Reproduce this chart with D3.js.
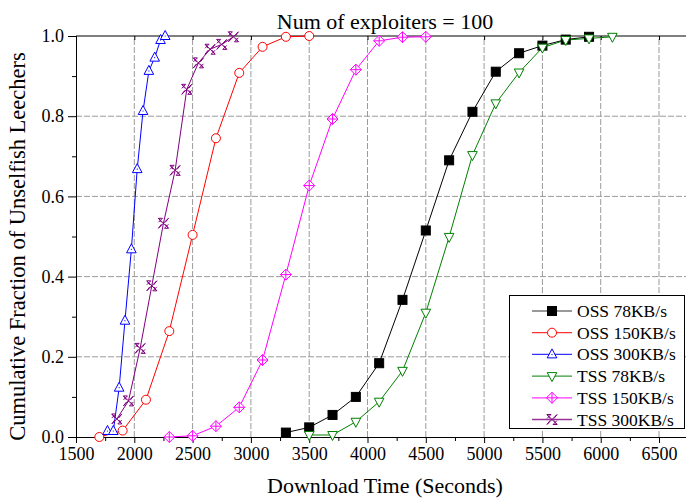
<!DOCTYPE html>
<html>
<head>
<meta charset="utf-8">
<script src="https://cdn.jsdelivr.net/npm/d3@7"></script>
<style>
  html, body { margin: 0; padding: 0; background: #fff; }
  svg { display: block; }
  svg text { font-family: "Liberation Serif", "Times New Roman", Times, "DejaVu Serif", serif; }
</style>
</head>
<body>
<svg id="chart" width="686" height="499"></svg>
<script>
// Download-time CDFs for unselfish leechers (100 exploiters)
const oss78X  = [3300, 3500, 3700, 3900, 4100, 4300, 4500, 4700, 4900, 5100, 5300, 5500, 5700, 5900];
const oss78Y  = [0.011, 0.024, 0.055, 0.100, 0.184, 0.342, 0.515, 0.690, 0.811, 0.911, 0.957, 0.976, 0.991, 0.998];

const oss150X = [1700, 1900, 2100, 2300, 2500, 2700, 2900, 3100, 3300, 3500];
const oss150Y = [0.000, 0.016, 0.093, 0.264, 0.504, 0.745, 0.908, 0.973, 0.998, 1.000];

const oss300X = [1770, 1820, 1870, 1920, 1975, 2025, 2075, 2125, 2175, 2225, 2265];
const oss300Y = [0.015, 0.015, 0.123, 0.290, 0.468, 0.668, 0.813, 0.913, 0.946, 0.990, 1.000];

const tss78X  = [3500, 3700, 3900, 4100, 4300, 4500, 4700, 4900, 5100, 5300, 5500, 5700, 5900, 6100];
const tss78Y  = [0.005, 0.005, 0.038, 0.088, 0.165, 0.310, 0.499, 0.703, 0.832, 0.909, 0.971, 0.990, 0.994, 0.998];

const tss150X = [2300, 2500, 2700, 2900, 3100, 3300, 3500, 3700, 3900, 4100, 4300, 4500];
const tss150Y = [0.000, 0.003, 0.027, 0.074, 0.192, 0.405, 0.627, 0.793, 0.916, 0.988, 0.997, 0.998];

const tss300X = [1850, 1950, 2050, 2150, 2250, 2350, 2450, 2550, 2650, 2750, 2850];
const tss300Y = [0.045, 0.090, 0.221, 0.377, 0.533, 0.665, 0.867, 0.933, 0.967, 0.979, 0.998];

const seriesNames = ["OSS 78KB/s", "OSS 150KB/s", "OSS 300KB/s", "TSS 78KB/s", "TSS 150KB/s", "TSS 300KB/s"];
const xTicks = [1500, 2000, 2500, 3000, 3500, 4000, 4500, 5000, 5500, 6000, 6500];
const yTicks = [0.0, 0.2, 0.4, 0.6, 0.8, 1.0];

const series = [
  { name: seriesNames[0], xs: oss78X,  ys: oss78Y,  color: "#000000", shape: "square" },
  { name: seriesNames[1], xs: oss150X, ys: oss150Y, color: "#ff0000", shape: "circle" },
  { name: seriesNames[2], xs: oss300X, ys: oss300Y, color: "#0000ff", shape: "triUp" },
  { name: seriesNames[3], xs: tss78X,  ys: tss78Y,  color: "#008000", shape: "triDown" },
  { name: seriesNames[4], xs: tss150X, ys: tss150Y, color: "#ff00ff", shape: "diamondPlus" },
  { name: seriesNames[5], xs: tss300X, ys: tss300Y, color: "#800080", shape: "crossBox" }
];

const FONT = '"Liberation Serif", "Times New Roman", Times, "DejaVu Serif", serif';
const svg = d3.select("#chart");
const margin = { left: 76, right: -8, top: 36, bottom: 62 };
const W = 686, H = 499;
const x = d3.scaleLinear().domain([1500, 6800]).range([margin.left, W - margin.right]);
const y = d3.scaleLinear().domain([0, 1]).range([H - margin.bottom, margin.top]);

// Grid
const grid = svg.append("g").attr("stroke", "#9a9a9a").attr("stroke-width", 1).attr("stroke-dasharray", "6,2");
xTicks.slice(1).forEach(v => {
  grid.append("line").attr("x1", x(v)).attr("x2", x(v)).attr("y1", y(0)).attr("y2", y(1));
});
yTicks.slice(1, -1).forEach(v => {
  grid.append("line").attr("x1", x(1500)).attr("x2", x(6800)).attr("y1", y(v)).attr("y2", y(v));
});

// Axes
const xMinor = d3.range(1750, 6800, 500);
const yMinor = d3.range(0.1, 1.0, 0.2);

svg.append("g").attr("transform", `translate(0,${y(0)})`)
  .call(d3.axisBottom(x).tickValues(xTicks).tickSize(6).tickPadding(4).tickFormat(d3.format("d")));
svg.append("g").attr("transform", `translate(0,${y(0)})`)
  .call(d3.axisBottom(x).tickValues(xMinor).tickSize(4).tickFormat(""))
  .call(g => g.select(".domain").remove());

svg.append("g").attr("transform", `translate(${x(1500)},0)`)
  .call(d3.axisLeft(y).tickValues(yTicks).tickSize(8).tickPadding(4).tickFormat(d3.format(".1f")));
svg.append("g").attr("transform", `translate(${x(1500)},0)`)
  .call(d3.axisLeft(y).tickValues(yMinor).tickSize(4).tickFormat(""))
  .call(g => g.select(".domain").remove());

// Top frame line with inward ticks
svg.append("g").attr("transform", `translate(0,${y(1)})`)
  .call(d3.axisBottom(x).tickValues(xTicks).tickSize(4).tickFormat(""))
  .call(g => g.select(".domain").attr("d", `M${x(1500)},0H${x(6800)}`));

svg.selectAll("g").filter(function() { return this.hasAttribute("font-family"); })
  .attr("font-family", FONT);
svg.selectAll(".tick text").attr("font-size", 18).attr("fill", "#000").style("font-family", FONT);
svg.selectAll(".domain, .tick line").attr("stroke", "#000").attr("stroke-width", 1);

// Series lines
const line = d3.line().x(d => x(d[0])).y(d => y(d[1]));
series.forEach(s => {
  const pts = s.xs.map((v, i) => [v, s.ys[i]]);
  svg.append("path").datum(pts).attr("d", line)
    .attr("fill", "none").attr("stroke", s.color).attr("stroke-width", 1);
});

// Marker shapes
function drawMarker(g, shape, color, cx, cy) {
  const m = g.append("g").attr("transform", `translate(${cx},${cy})`)
    .attr("stroke", color).attr("stroke-width", 1).attr("fill", "#fff");
  if (shape === "square") {
    m.append("rect").attr("x", -4.5).attr("y", -4.5).attr("width", 9).attr("height", 9)
      .attr("fill", color);
  } else if (shape === "circle") {
    m.append("circle").attr("r", 4.5);
  } else if (shape === "triUp") {
    m.append("path").attr("d", "M0,-5.5L4.8,3.5L-4.8,3.5Z");
    m.append("circle").attr("r", 0.6).attr("fill", color).attr("stroke", "none");
  } else if (shape === "triDown") {
    m.append("path").attr("d", "M0,5.5L4.8,-3.5L-4.8,-3.5Z");
  } else if (shape === "diamondPlus") {
    m.append("path").attr("d", "M0,-5.5L5.5,0L0,5.5L-5.5,0Z");
    m.append("path").attr("d", "M0,-5.5V5.5M-5.5,0H5.5").attr("fill", "none");
  } else if (shape === "crossBox") {
    m.append("path").attr("fill", "none")
      .attr("d", "M-5,-5L5,5M5,-5L-5,5M-5,-5L-2,-1M5,-5L2,-1M-5,5L-2,1M5,5L2,1M-5,-5H-1M5,5H1M-1,-5L-5,-1M1,5L5,1");
  }
}

const marks = svg.append("g");
series.forEach(s => {
  s.xs.forEach((v, i) => drawMarker(marks, s.shape, s.color, x(v), y(s.ys[i])));
});

// Title and axis labels
svg.append("text").attr("x", (x(1500) + x(6800)) / 2).attr("y", 29).style("font-family", FONT)
  .attr("text-anchor", "middle").attr("font-size", 22).text("Num of exploiters = 100");
svg.append("text").attr("x", (x(1500) + x(6800)) / 2).attr("y", 493).style("font-family", FONT)
  .attr("text-anchor", "middle").attr("font-size", 22).text("Download Time (Seconds)");
svg.append("text").attr("transform", `translate(25,${(y(0) + y(1)) / 2 + 10}) rotate(-90)`)
  .style("font-family", FONT)
  .attr("text-anchor", "middle").attr("font-size", 22.5).text("Cumulative Fraction of Unselfish Leechers");

// Legend
const lg = svg.append("g");
lg.append("rect").attr("x", 509.5).attr("y", 295.5).attr("width", 175).attr("height", 133)
  .attr("fill", "#fff").attr("stroke", "#000").attr("stroke-width", 1);
series.forEach((s, i) => {
  const cy = 311 + i * 21.7;
  lg.append("line").attr("x1", 532).attr("x2", 572).attr("y1", cy).attr("y2", cy)
    .attr("stroke", s.color === "#000000" ? "#555" : s.color).attr("stroke-width", 1.3)
    .attr("stroke-opacity", 0.8);
  drawMarker(lg, s.shape, s.color, 552, cy);
  lg.append("text").attr("x", 577).attr("y", cy + 6).style("font-family", FONT)
    .attr("font-size", 17.5).text(s.name);
});
</script>
</body>
</html>
